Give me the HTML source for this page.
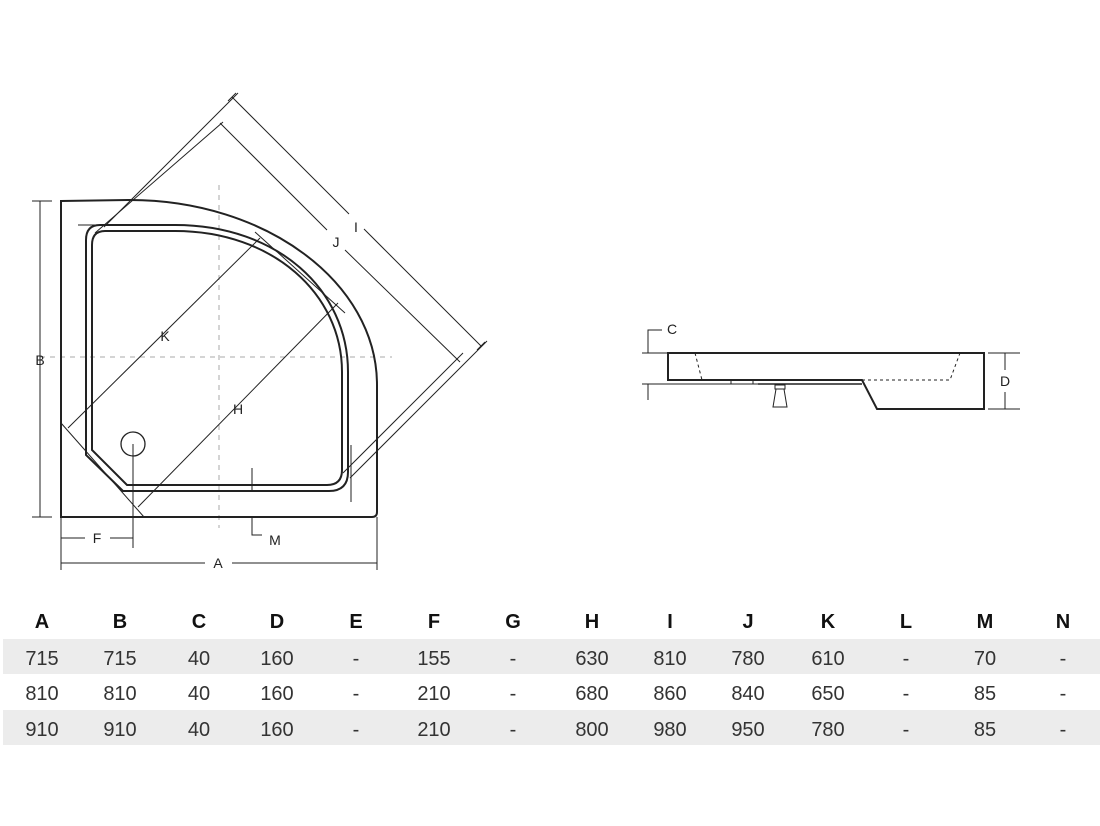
<!DOCTYPE html>
<html><head><meta charset="utf-8"><style>
body{margin:0;background:#fff;width:1100px;height:826px;overflow:hidden;font-family:"Liberation Sans",sans-serif}
svg{position:absolute;left:0;top:0}
</style></head><body>
<svg width="1100" height="826" viewBox="0 0 1100 826">
<rect x="3" y="639" width="1097" height="35" fill="#ececec"/>
<rect x="3" y="710" width="1097" height="35" fill="#ececec"/>
<g fill="none" stroke="#222" stroke-width="1">
<line x1="40" y1="357" x2="392" y2="357" stroke="#aaa" stroke-dasharray="5,5"/>
<line x1="219" y1="185" x2="219" y2="528" stroke="#aaa" stroke-dasharray="5,5"/>
<path d="M61,201 L130,200 C265,200 377,282 377,385 L377,512 Q377,517 372,517 L61,517 Z" stroke-width="2"/>
<path d="M100,225 L175,225 C278,225 348,290 348,372 L348,472 Q348,491 329,491 L123,491 L86,455 L86,240 Q86,225 100,225 Z" stroke-width="2"/>
<path d="M105,231 L175,231 C273,231 342,294 342,372 L342,470 Q342,485 327,485 L127,485 L92,450 L92,245 Q92,231 105,231 Z" stroke-width="2"/>
<circle cx="133" cy="444" r="12" stroke-width="1.3"/>
<line x1="232" y1="97" x2="349" y2="214"/><line x1="364" y1="229" x2="481" y2="346"/>
<line x1="238" y1="93" x2="104" y2="227"/><line x1="487" y1="341" x2="350" y2="478"/>
<line x1="236" y1="93" x2="228" y2="101"/><line x1="485" y1="342" x2="477" y2="350"/>
<line x1="220" y1="123" x2="327" y2="230"/><line x1="345" y1="250" x2="460" y2="362"/>
<line x1="223" y1="122" x2="95" y2="233"/><line x1="463" y1="353" x2="343" y2="473"/>
<line x1="68" y1="428" x2="260" y2="238"/><line x1="255" y1="232" x2="345" y2="313"/>
<line x1="61" y1="423" x2="144" y2="517"/>
<line x1="138" y1="507" x2="338" y2="303"/>
<line x1="78" y1="225" x2="100" y2="225"/>
<line x1="351" y1="445" x2="351" y2="502"/>
<line x1="252" y1="468" x2="252" y2="490"/><path d="M252,517 L252,535 L262,535"/>
<line x1="40" y1="201" x2="40" y2="517"/><line x1="32" y1="201" x2="52" y2="201"/><line x1="32" y1="517" x2="52" y2="517"/>
<line x1="61" y1="517" x2="61" y2="570"/><line x1="377" y1="517" x2="377" y2="570"/>
<line x1="61" y1="563" x2="205" y2="563"/><line x1="232" y1="563" x2="377" y2="563"/>
<line x1="61" y1="538" x2="85" y2="538"/><line x1="110" y1="538" x2="133" y2="538"/>
<line x1="133" y1="444" x2="133" y2="548"/>
<path d="M668,353 L984,353 L984,409 L877,409 L862,380 L668,380 Z" stroke-width="2"/>
<path d="M758,384 L862,384" stroke-width="1.5"/>
<rect x="731" y="380" width="22" height="4"/>
<rect x="775" y="385" width="10" height="4"/>
<path d="M776,389 L773,407 L787,407 L784,389 Z"/>
<path d="M695,353 L702,380 M862,380 L950,380 L960,353" stroke-dasharray="3,3"/>
<line x1="642" y1="353" x2="668" y2="353"/><line x1="642" y1="384" x2="758" y2="384"/>
<path d="M662,330 L648,330 L648,353"/><line x1="648" y1="384" x2="648" y2="400"/>
<line x1="988" y1="353" x2="1020" y2="353"/><line x1="988" y1="409" x2="1020" y2="409"/>
<line x1="1005" y1="353" x2="1005" y2="370"/><line x1="1005" y1="392" x2="1005" y2="409"/>
</g>
<g fill="#222" font-size="14" text-anchor="middle">
<text x="356" y="232">I</text><text x="336" y="247">J</text>
<text x="165" y="341">K</text><text x="238" y="414">H</text>
<text x="40" y="365">B</text><text x="218" y="568">A</text>
<text x="97" y="543">F</text><text x="275" y="545">M</text>
<text x="672" y="334">C</text><text x="1005" y="386">D</text>
</g>
<g font-size="20" text-anchor="middle" fill="#333">
<g font-weight="bold" fill="#111">
<text x="42" y="628">A</text><text x="120" y="628">B</text><text x="199" y="628">C</text><text x="277" y="628">D</text><text x="356" y="628">E</text><text x="434" y="628">F</text><text x="513" y="628">G</text><text x="592" y="628">H</text><text x="670" y="628">I</text><text x="748" y="628">J</text><text x="828" y="628">K</text><text x="906" y="628">L</text><text x="985" y="628">M</text><text x="1063" y="628">N</text>
</g>
<g transform="translate(0,665)"><text x="42">715</text><text x="120">715</text><text x="199">40</text><text x="277">160</text><text x="356">-</text><text x="434">155</text><text x="513">-</text><text x="592">630</text><text x="670">810</text><text x="748">780</text><text x="828">610</text><text x="906">-</text><text x="985">70</text><text x="1063">-</text></g>
<g transform="translate(0,700)"><text x="42">810</text><text x="120">810</text><text x="199">40</text><text x="277">160</text><text x="356">-</text><text x="434">210</text><text x="513">-</text><text x="592">680</text><text x="670">860</text><text x="748">840</text><text x="828">650</text><text x="906">-</text><text x="985">85</text><text x="1063">-</text></g>
<g transform="translate(0,736)"><text x="42">910</text><text x="120">910</text><text x="199">40</text><text x="277">160</text><text x="356">-</text><text x="434">210</text><text x="513">-</text><text x="592">800</text><text x="670">980</text><text x="748">950</text><text x="828">780</text><text x="906">-</text><text x="985">85</text><text x="1063">-</text></g>
</g>
</svg>
</body></html>
